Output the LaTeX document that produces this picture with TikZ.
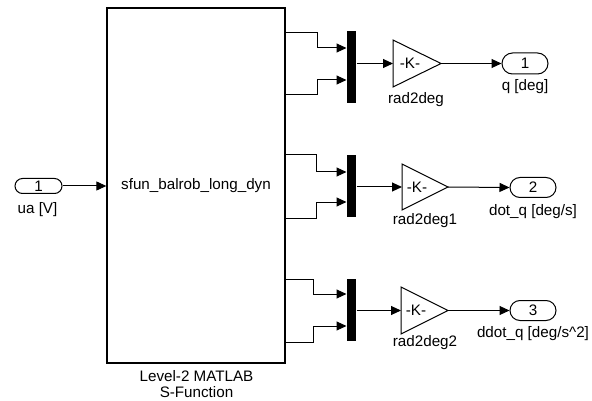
\documentclass[tikz,border=0pt]{standalone}
\usepackage{fontspec}
\setmainfont{Liberation Sans}
\usetikzlibrary{arrows.meta}
\begin{document}
\begin{tikzpicture}[x=1pt,y=-1pt,line width=1pt,
  sig/.style={-{Triangle[length=10pt,width=9pt]}},
  txt/.style={font=\fontsize{15.2}{16}\selectfont,inner sep=0pt},
  port/.style={draw,txt,minimum width=46pt,minimum height=20pt,rounded corners=10pt},
  muxbar/.style={fill=black,draw=none,minimum width=9pt,inner sep=0pt},
  gainshape/.style={draw,line join=miter}]
\useasboundingbox (0,0) rectangle (592,401);

% input port
\node[port,minimum width=47pt,minimum height=15pt,rounded corners=7.5pt] (in1) at (38.5,186) {1};
\node[txt] (in1l) at (37.5,210) {ua [V]};

% S-function block
\node[draw,line width=1.3pt,minimum width=178pt,minimum height=355pt,inner sep=0pt,txt] (blk) at (196,185.5) {sfun\_balrob\_long\_dyn};
\node[txt,align=center,font=\fontsize{15.2}{15.5}\selectfont] (blkl) at (196.5,384) {Level-2 MATLAB\\S-Function};
\draw[sig] (in1.east) -- (blk.west |- in1.east);

% block outputs
\foreach \n/\y in {a/33,b/95,c/155,d/218,e/279,f/342}{\coordinate (o\n) at (blk.east |- 0,\y);}

% muxes
\node[muxbar,minimum height=72pt] (m1) at (351.5,67) {};
\node[muxbar,minimum height=62pt] (m2) at (351.5,186) {};
\node[muxbar,minimum height=62pt] (m3) at (351.5,310) {};

\draw[sig] (oa) -- (317,33) |- (m1.west |- 0,48);
\draw[sig] (ob) -- (317,95) |- (m1.west |- 0,80);
\draw[sig] (oc) -- (316,155) |- (m2.west |- 0,172);
\draw[sig] (od) -- (316,218) |- (m2.west |- 0,202);
\draw[sig] (oe) -- (313,279) |- (m3.west |- 0,294);
\draw[sig] (of) -- (313,342) |- (m3.west |- 0,326);

% gains
\coordinate (g1in) at (393,63.5); \coordinate (g1out) at (441,63.5);
\coordinate (g2in) at (402,187); \coordinate (g2out) at (448,187);
\coordinate (g3in) at (401,310.5); \coordinate (g3out) at (448,310.5);
\draw[gainshape] (393,40) -- (393,87) -- (g1out) -- cycle;
\draw[gainshape] (402,164) -- (402,210) -- (g2out) -- cycle;
\draw[gainshape] (401,287) -- (401,334) -- (g3out) -- cycle;
\node[txt] (k1) at (410,63.5) {-K-};
\node[txt] (k2) at (417,187) {-K-};
\node[txt] (k3) at (416,310.5) {-K-};
\node[txt] (g1l) at (416,100) {rad2deg};
\node[txt] (g2l) at (425,221) {rad2deg1};
\node[txt] (g3l) at (425,343) {rad2deg2};

\draw[sig] (m1.east |- g1in) -- (g1in);
\draw[sig] (m2.east |- g2in) -- (g2in);
\draw[sig] (m3.east |- g3in) -- (g3in);

% output ports
\node[port,minimum height=21pt,rounded corners=10.5pt] (out1) at (525,63.5) {1};
\node[port] (out2) at (533,187.5) {2};
\node[port] (out3) at (533,310.5) {3};
\node[txt] (out1l) at (525,87) {q [deg]};
\node[txt] (out2l) at (533,212) {dot\_q [deg/s]};
\node[txt] (out3l) at (533,334) {ddot\_q [deg/s\^{}2]};

\draw[sig] (g1out) -- (out1.west);
\draw[sig] (g2out) -- (out2.west);
\draw[sig] (g3out) -- (out3.west);
\end{tikzpicture}
\end{document}
